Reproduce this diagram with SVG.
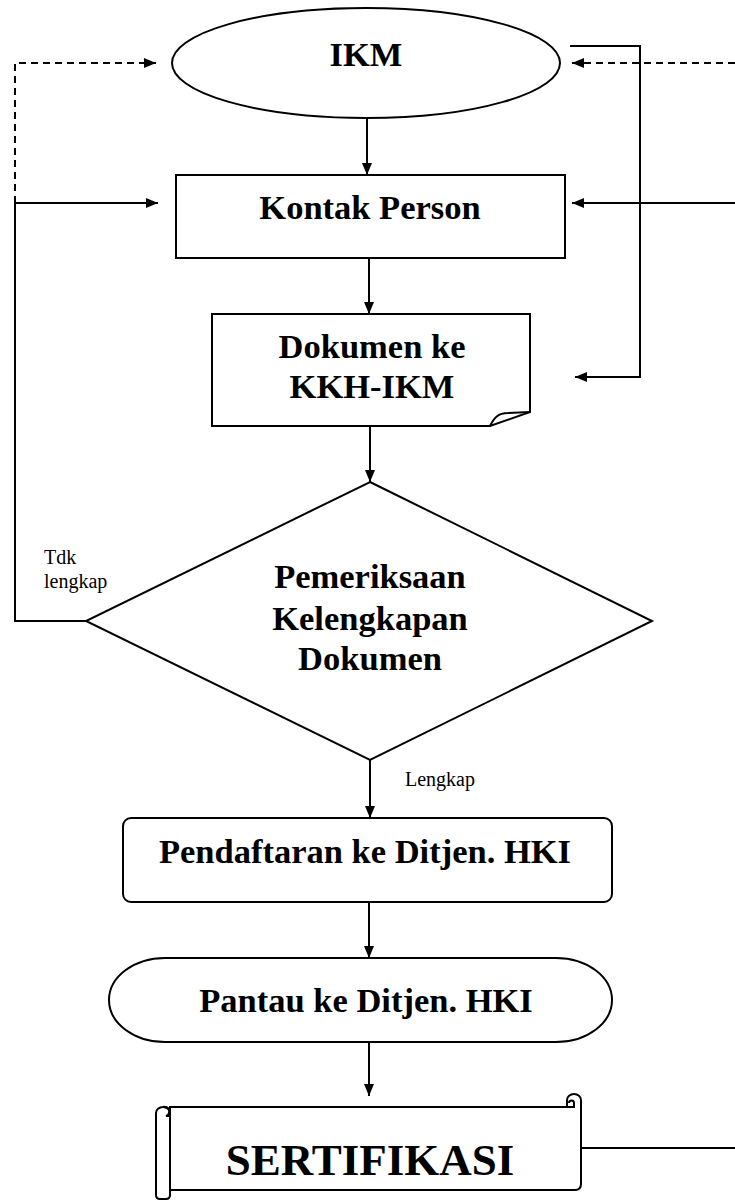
<svg xmlns="http://www.w3.org/2000/svg" width="735" height="1201" viewBox="0 0 735 1201">
<style>
.shape{fill:#fff;stroke:#000;stroke-width:2}
.line{fill:none;stroke:#000;stroke-width:2}
.dash{fill:none;stroke:#000;stroke-width:2;stroke-dasharray:7 5}
.t{font-family:"Liberation Serif","Times New Roman",serif;font-weight:bold;font-size:34.5px;text-anchor:middle;fill:#000}
.big{font-size:45px}
.lbl{font-family:"Liberation Serif","Times New Roman",serif;font-size:20px;fill:#000}
</style>
<defs>
<marker id="arr" markerWidth="12" markerHeight="10" refX="12" refY="5" orient="auto" markerUnits="userSpaceOnUse">
<path d="M0,0 L12,5 L0,10 Z" fill="#000"/>
</marker>
</defs>
<rect width="735" height="1201" fill="#fff"/>
<g id="connectors">
<line class="line" x1="367" y1="118" x2="367" y2="175" marker-end="url(#arr)"/>
<line class="line" x1="369" y1="258" x2="369" y2="314" marker-end="url(#arr)"/>
<line class="line" x1="370" y1="426" x2="370" y2="482" marker-end="url(#arr)"/>
<line class="line" x1="370" y1="760" x2="370" y2="818" marker-end="url(#arr)"/>
<line class="line" x1="369" y1="902" x2="369" y2="958" marker-end="url(#arr)"/>
<line class="line" x1="369" y1="1042" x2="369" y2="1096" marker-end="url(#arr)"/>
<polyline class="line" points="86,621 15,621 15,203 158,203" marker-end="url(#arr)"/>
<polyline class="dash" points="15,203 15,63 156,63" marker-end="url(#arr)"/>
<polyline class="line" points="570,46 640,46 640,377 575,377" marker-end="url(#arr)"/>
<line class="line" x1="735" y1="203" x2="572" y2="203" marker-end="url(#arr)"/>
<line class="dash" x1="735" y1="63" x2="572" y2="63" marker-end="url(#arr)"/>
<line class="line" x1="582" y1="1148" x2="735" y2="1148"/>
</g>
<g id="ikm">
<ellipse class="shape" cx="366" cy="63" rx="194" ry="55"/>
<text class="t" x="366" y="66">IKM</text>
</g>
<g id="kontak">
<rect class="shape" x="176" y="175" width="389" height="83"/>
<text class="t" x="370" y="219">Kontak Person</text>
</g>
<g id="dokumen">
<path class="shape" d="M212,314 H530 V412 L490,426 H212 Z"/>
<path class="line" d="M490,426 C494,418 498,413 508,413 L530,412"/>
<text class="t" x="372" y="358">Dokumen ke</text>
<text class="t" x="372" y="398">KKH-IKM</text>
</g>
<g id="pemeriksaan">
<polygon class="shape" points="370,482 652,621 370,760 86,621"/>
<text class="t" x="370" y="588">Pemeriksaan</text>
<text class="t" x="370" y="630">Kelengkapan</text>
<text class="t" x="370" y="670">Dokumen</text>
</g>
<g id="labels">
<text class="lbl" x="44" y="564">Tdk</text>
<text class="lbl" x="44" y="588">lengkap</text>
<text class="lbl" x="405" y="786">Lengkap</text>
</g>
<g id="pendaftaran">
<rect class="shape" x="123" y="818" width="489" height="84" rx="8"/>
<text class="t" x="365" y="863">Pendaftaran ke Ditjen. HKI</text>
</g>
<g id="pantau">
<path class="shape" d="M165,958 H556 A56,42 0 0 1 556,1042 H165 A56,42 0 0 1 165,958 Z"/>
<text class="t" x="366" y="1012">Pantau ke Ditjen. HKI</text>
</g>
<g id="sertifikasi">
<path class="shape" d="M170,1107 H567 V1100 A7,6 0 0 1 581,1100 V1184 Q581,1190 575,1190 H170 Z"/>
<path class="line" d="M567,1107 H574 V1103 A2.5,2.5 0 0 0 569,1103"/>
<path class="shape" d="M156,1113 A7,6 0 0 1 170,1113 V1195 Q170,1199 166,1199 H160 Q156,1199 156,1195 Z"/>
<path class="line" d="M163,1107 A4,4 0 1 1 166,1116 H170"/>
<text class="t big" x="370" y="1175">SERTIFIKASI</text>
</g>
</svg>
